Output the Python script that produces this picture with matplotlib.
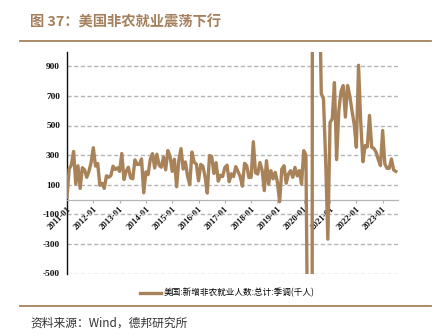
import matplotlib
matplotlib.use("Agg")
import matplotlib.pyplot as plt
from matplotlib.lines import Line2D

# Monthly change in US nonfarm payrolls, seasonally adjusted (thousands), 2011-01 .. 2023-07
nfp_2011 = [15, 205, 235, 325, 105, 228, 75, 215, 200, 150, 190, 250]
nfp_2012 = [350, 226, 243, 96, 110, 75, 160, 150, 161, 225, 203, 214]
nfp_2013 = [190, 311, 135, 192, 218, 146, 140, 268, 237, 237, 274, 45]
nfp_2014 = [187, 168, 272, 310, 213, 306, 232, 218, 286, 200, 331, 292]
nfp_2015 = [190, 272, 86, 262, 344, 206, 254, 157, 100, 321, 252, 239]
nfp_2016 = [126, 237, 225, 153, 43, 297, 291, 176, 249, 124, 164, 155]
nfp_2017 = [216, 232, 120, 174, 155, 222, 189, 156, 90, 244, 228, 148]
nfp_2018 = [150, 390, 180, 172, 250, 200, 60, 262, 104, 195, 140, 183]
nfp_2019 = [115, -15, 206, 228, 110, 172, 195, 150, 217, 160, 195, 104]
nfp_2020 = [330, 300, -1400, -20500, 2800, 4500, 1700, 1583, 716, 680, 264, -268]
nfp_2021 = [520, 545, 790, 270, 600, 730, 770, 557, 770, 700, 600, 510]
nfp_2022 = [353, 907, 520, 255, 364, 355, 568, 353, 345, 320, 270, 229]
nfp_2023 = [466, 240, 211, 210, 274, 200, 190]

series_label = "美国:新增非农就业人数:总计:季调(千人)"
title_text = "图 37：美国非农就业震荡下行"
source_text = "资料来源：Wind，德邦研究所"

years = list(range(2011, 2024))
x_tick_labels = [f"{y}-01" for y in years]
y_ticks = [-500, -300, -100, 100, 300, 500, 700, 900]

values = (nfp_2011 + nfp_2012 + nfp_2013 + nfp_2014 + nfp_2015 + nfp_2016 +
          nfp_2017 + nfp_2018 + nfp_2019 + nfp_2020 + nfp_2021 + nfp_2022 + nfp_2023)
months = list(range(len(values)))

plt.rcParams['font.family'] = ['Noto Sans CJK SC', 'DejaVu Sans']

W, H = 439, 336
fig = plt.figure(figsize=(W / 100, H / 100), dpi=100)
fig.patch.set_facecolor("white")

brown = "#a8835a"
title_brown = "#a5805c"

ax = fig.add_axes([67 / W, 1 - 273.5 / H, (398 - 67) / W, 222 / H])
ax.set_facecolor("white")

# Spines first: moving the bottom spine rebuilds the tick objects
for side in ("top", "right"):
    ax.spines[side].set_visible(False)
ax.spines["left"].set_color("#111111")
ax.spines["left"].set_linewidth(1.0)
ax.spines["bottom"].set_position(("data", 0))
ax.spines["bottom"].set_color("#b5b5b5")
ax.spines["bottom"].set_linewidth(0.9)

ax.plot(months, values, color=brown, lw=2.4, solid_joinstyle="round", zorder=3)

ax.set_ylim(-500, 1000)
ax.set_xlim(0, 151)
ax.set_yticks(y_ticks)
ax.set_yticklabels([str(v) for v in y_ticks], fontfamily="Liberation Serif",
                   fontweight="bold", fontsize=6.7, color="#111111")
ax.tick_params(axis="y", length=0, pad=5)

ax.set_xticks([12 * i for i in range(len(years))])
ax.set_xticklabels(x_tick_labels, rotation=45, ha="right", va="top",
                   rotation_mode="anchor", fontfamily="Liberation Serif",
                   fontweight="bold", fontsize=6.3, color="#111111")
ax.tick_params(axis="x", direction="out", length=2.5, width=0.8,
               color="#b0b0b0", pad=1.5)

ax.grid(axis="y", color="#b5b5b5", lw=1.0, linestyle=(0, (3, 1.8)), zorder=0)
ax.set_axisbelow(True)

# Header and footer
fig.text(30 / W, 1 - 22 / H, title_text, fontsize=10.3, fontweight="bold",
         color=title_brown, ha="left", va="center")
fig.add_artist(Line2D([20 / W, 431 / W], [1 - 40.5 / H, 1 - 40.5 / H],
                      color="#a5815c", lw=1.3))
fig.add_artist(Line2D([20 / W, 431 / W], [1 - 306 / H, 1 - 306 / H],
                      color="#a5815c", lw=1.3))
fig.text(30 / W, 1 - 323 / H, source_text, fontsize=8.5, color="#333333",
         ha="left", va="center")

handle = Line2D([], [], color=brown, lw=2.4)
fig.legend([handle], [series_label], loc="center",
           bbox_to_anchor=(227 / W, 1 - 293 / H), frameon=False,
           handlelength=2.5, handletextpad=0.2,
           prop={"family": ["Noto Sans CJK SC", "DejaVu Sans"], "size": 6.2})

fig.savefig("out.png", dpi=100, facecolor="white")
